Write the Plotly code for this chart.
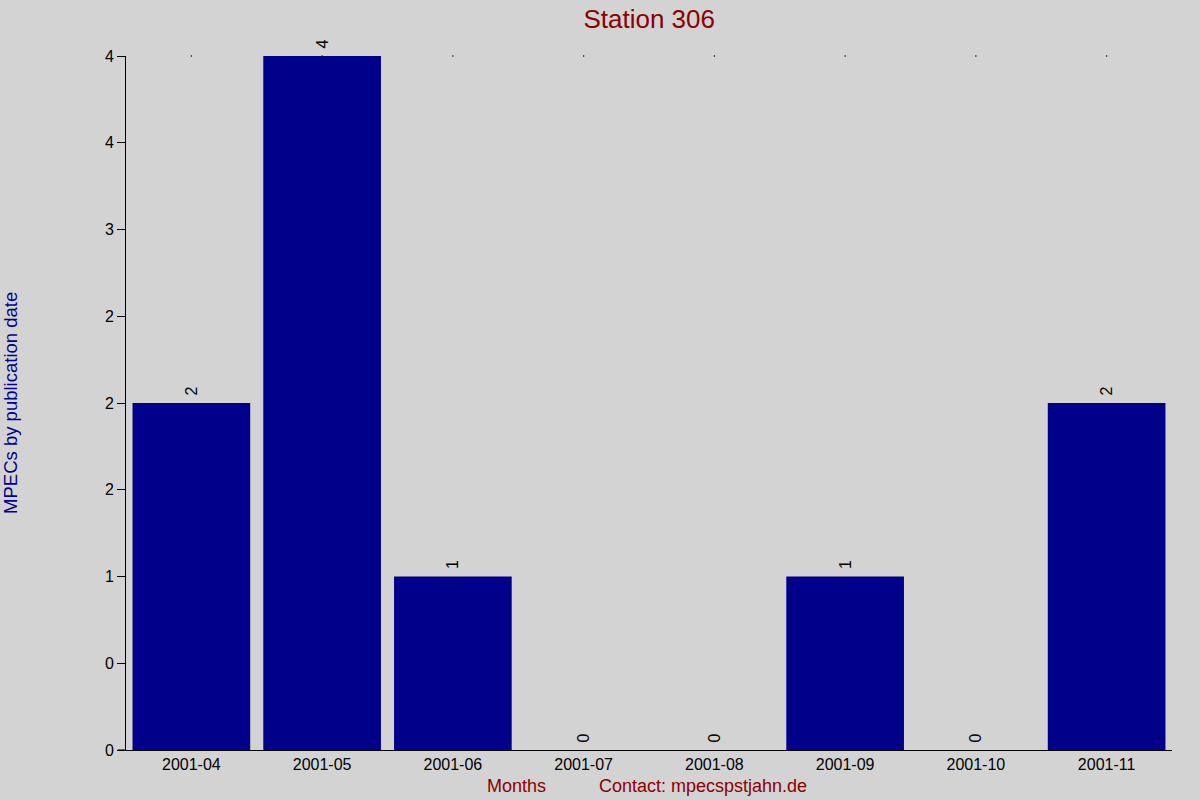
import plotly.graph_objects as go

months = ["2001-04", "2001-05", "2001-06", "2001-07", "2001-08", "2001-09", "2001-10", "2001-11"]
mpecs = [2, 4, 1, 0, 0, 1, 0, 2]

y_ticks = [0, 0.5, 1, 1.5, 2, 2.5, 3, 3.5, 4]
y_tick_labels = ["0", "0", "1", "2", "2", "2", "3", "4", "4"]

fig = go.Figure()
fig.add_trace(go.Bar(
    x=months, y=mpecs, width=0.9,
    marker=dict(color="#00008B", line=dict(width=0)),
    # a non-breaking space lifts the rotated labels off the bar tops
    text=["\u00a0" + str(v) for v in mpecs], textposition="outside",
    textangle=-90, cliponaxis=False,
    textfont=dict(family="Liberation Sans, Arial", size=16, color="black"),
))
# little dots along the top of the plot
fig.add_trace(go.Scatter(
    x=months, y=[max(mpecs)] * len(months), mode="markers",
    marker=dict(size=1.5, color="black"), hoverinfo="skip", cliponaxis=False,
))

fig.update_layout(
    width=1200, height=800,
    paper_bgcolor="#D3D3D3", plot_bgcolor="#D3D3D3",
    margin=dict(l=126, r=28, t=56, b=50),
    showlegend=False,
    font=dict(family="Liberation Sans, Arial", size=16, color="black"),
    title=dict(text="Station 306", x=0.541, xanchor="center", y=0.977, yanchor="middle",
               font=dict(size=26, color="#8B0000")),
    bargap=0.1,
)
fig.update_xaxes(
    type="category", range=[-0.5, 7.5], showgrid=False, showline=True,
    linecolor="black", linewidth=1, ticks="", tickfont=dict(size=16),
)
fig.update_yaxes(
    range=[0, 4], tickvals=y_ticks, ticktext=y_tick_labels,
    showgrid=False, zeroline=False, showline=True, linecolor="black", linewidth=1,
    ticks="outside", ticklen=8, tickcolor="black", tickfont=dict(size=16),
)
# x axis line runs a bit past the y axis on the left
fig.add_shape(type="line", xref="paper", yref="paper", x0=-0.008, x1=0, y0=0, y1=0,
              line=dict(color="black", width=1))
fig.add_annotation(text="MPECs by publication date", xref="paper", yref="paper",
                   x=-0.111, xanchor="center", y=0.5, textangle=-90, showarrow=False,
                   font=dict(size=18.5, color="#00008B"))
fig.add_annotation(text="Months", xref="paper", yref="paper", x=0.373, y=-0.052,
                   yanchor="middle", showarrow=False, font=dict(size=18, color="#8B0000"))
fig.add_annotation(text="Contact: mpecspstjahn.de", xref="paper", yref="paper", x=0.552, y=-0.052,
                   yanchor="middle", showarrow=False, font=dict(size=18, color="#8B0000"))

fig.write_html("out.html", config={"displayModeBar": False},
               post_script="document.body.style.margin='0';")
